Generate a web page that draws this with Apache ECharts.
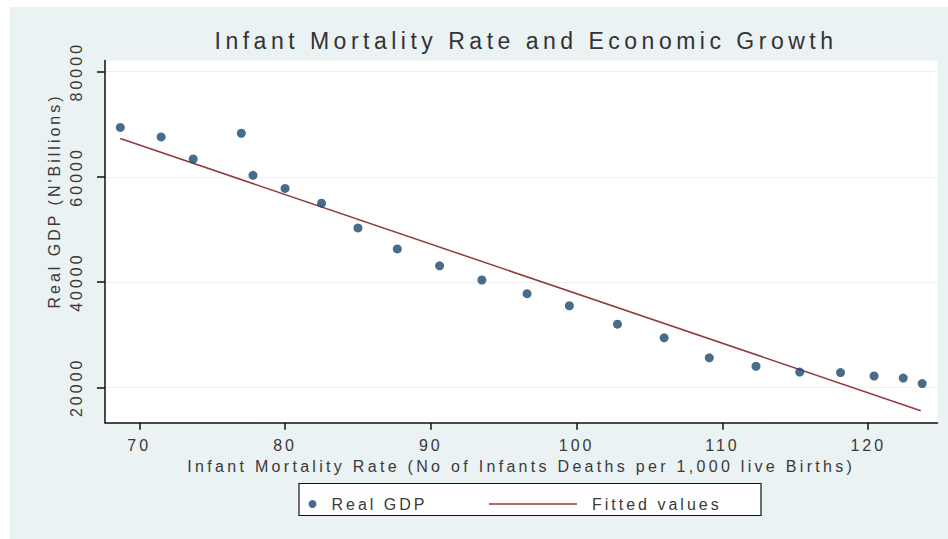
<!DOCTYPE html>
<html>
<head>
<meta charset="utf-8">
<script src="https://cdn.jsdelivr.net/npm/echarts@6/dist/echarts.min.js"></script>
<style>
  html, body { margin: 0; padding: 0; background: #ffffff; }
  #chart { width: 948px; height: 539px; }
  /* Stata-style wide tracking on every label */
  #chart svg text { letter-spacing: 3px; }
</style>
</head>
<body>
<div id="chart"></div>
<script>
// Infant mortality rate (deaths per 1,000 live births) against real GDP (N'Billions)
const mortality = [68.7, 71.5, 73.7, 77.0, 77.8, 80.0, 82.5, 85.0, 87.7, 90.6, 93.5,
                   96.6, 99.5, 102.8, 106.0, 109.1, 112.3, 115.3, 118.1, 120.4, 122.4, 123.7];
const realGdp = [69400, 67600, 63400, 68300, 60300, 57800, 55000, 50300, 46300, 43100, 40400,
                 37800, 35500, 32000, 29400, 25600, 24000, 22900, 22800, 22150, 21750, 20700];

// Ends of the fitted regression line
const fittedX = [68.7, 123.6];
const fittedY = [67300, 15550];

const xTicks = [70, 80, 90, 100, 110, 120];
const yTicks = [20000, 40000, 60000, 80000];

const TITLE = 'Infant Mortality Rate and Economic Growth';
const X_NAME = 'Infant Mortality Rate (No of Infants Deaths per 1,000 live Births)';
const FONT = 'Liberation Sans, Arial, sans-serif';
const TEXT = '#3a3a3a';

const chart = echarts.init(document.getElementById('chart'), null, { renderer: 'svg' });

chart.setOption({
  animation: false,
  backgroundColor: '#ffffff',
  textStyle: { fontFamily: FONT },
  graphic: [
    { type: 'rect', z: -10, silent: true,
      shape: { x: 10, y: 7, width: 938, height: 532 },
      style: { fill: '#eaf2f3' } },
    { type: 'rect', z: 5, silent: true,
      shape: { x: 299, y: 483.5, width: 462, height: 32 },
      style: { fill: '#ffffff', stroke: '#111111', lineWidth: 1.2 } },
    { type: 'text', z: 5, silent: true, x: 54, y: 201, rotation: Math.PI / 2,
      style: { text: "Real GDP (N'Billions)", fill: TEXT, font: '16px ' + FONT,
               align: 'center', verticalAlign: 'middle' } }
  ],
  title: {
    text: TITLE,
    left: 521, top: 24, textAlign: 'center',
    textStyle: { fontFamily: FONT, fontSize: 23, fontWeight: 'normal', color: '#333333' }
  },
  legend: [
    { data: ['Real GDP'], left: 303.5, top: 491, z: 10,
      icon: 'circle', itemWidth: 28, itemHeight: 8,
      textStyle: { fontFamily: FONT, fontSize: 16, color: TEXT } },
    { data: ['Fitted values'], left: 484, top: 491, z: 10,
      icon: 'rect', itemWidth: 88, itemHeight: 1.5,
      textStyle: { fontFamily: FONT, fontSize: 16, color: TEXT, padding: [0, 0, 0, 10] } }
  ],
  grid: {
    left: 105, right: 10.5, top: 60.5, bottom: 116.3,
    containLabel: false, show: true, backgroundColor: '#ffffff', borderWidth: 0
  },
  xAxis: {
    type: 'value', min: 67.65, max: 124.75,
    name: X_NAME,
    nameLocation: 'middle', nameGap: 26,
    nameTextStyle: { fontFamily: FONT, fontSize: 16, color: TEXT },
    axisLine: { show: true, onZero: false, lineStyle: { color: '#111111', width: 1.5 } },
    axisTick: { show: true, length: 7, customValues: xTicks, lineStyle: { color: '#111111', width: 1.5 } },
    axisLabel: { customValues: xTicks, margin: 15, fontSize: 16, color: TEXT, fontFamily: FONT },
    splitLine: { show: false }
  },
  yAxis: {
    type: 'value', min: 13270, max: 82130,
    axisLine: { show: true, onZero: false, lineStyle: { color: '#111111', width: 1.5 } },
    axisTick: { show: true, length: 8, customValues: yTicks, lineStyle: { color: '#111111', width: 1.5 } },
    axisLabel: { customValues: yTicks, rotate: 90, margin: 21, fontSize: 16, color: TEXT,
                 fontFamily: FONT, formatter: v => String(v) },
    splitLine: { show: true, lineStyle: { color: '#eaf2f3', width: 1.2 } }
  },
  series: [
    {
      name: 'Real GDP', type: 'scatter',
      symbol: 'circle', symbolSize: 9,
      itemStyle: { color: '#1a476f' },
      data: mortality.map((m, i) => [m, realGdp[i]]),
      z: 3
    },
    {
      name: 'Fitted values', type: 'line',
      symbol: 'none',
      lineStyle: { color: '#8f3b3c', width: 1.5 },
      itemStyle: { color: '#8f3b3c' },
      data: fittedX.map((x, i) => [x, fittedY[i]]),
      z: 2
    }
  ]
});

// The title and the x-axis name get a slightly wider tracking than the other labels
document.querySelectorAll('#chart svg text').forEach(t => {
  if (t.textContent === TITLE) t.style.letterSpacing = '4.5px';
  if (t.textContent === X_NAME) t.style.letterSpacing = '3.3px';
});
</script>
</body>
</html>
